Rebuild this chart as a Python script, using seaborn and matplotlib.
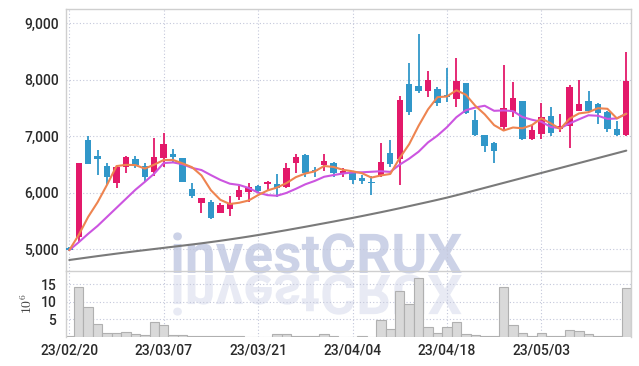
import numpy as np
import matplotlib
matplotlib.use("Agg")
import matplotlib.pyplot as plt
import seaborn as sns
from matplotlib.textpath import TextPath
from matplotlib.patches import PathPatch
from matplotlib.font_manager import FontProperties
from matplotlib.transforms import Affine2D

# trading days (yy/mm/dd)
dates = ["23/02/20", "23/02/21", "23/02/22", "23/02/23", "23/02/24", "23/02/27", "23/02/28",
         "23/03/02", "23/03/03", "23/03/06", "23/03/07", "23/03/08", "23/03/09", "23/03/10",
         "23/03/13", "23/03/14", "23/03/15", "23/03/16", "23/03/17", "23/03/20", "23/03/21",
         "23/03/22", "23/03/23", "23/03/24", "23/03/27", "23/03/28", "23/03/29", "23/03/30",
         "23/03/31", "23/04/03", "23/04/04", "23/04/05", "23/04/06", "23/04/07", "23/04/10",
         "23/04/11", "23/04/12", "23/04/13", "23/04/14", "23/04/17", "23/04/18", "23/04/19",
         "23/04/20", "23/04/21", "23/04/24", "23/04/25", "23/04/26", "23/04/27", "23/04/28",
         "23/05/02", "23/05/03", "23/05/04", "23/05/08", "23/05/09", "23/05/10", "23/05/11",
         "23/05/12", "23/05/15", "23/05/16", "23/05/17"]

opens = [5020, 5210, 6930, 6650, 6470, 6170, 6450, 6600, 6470, 6370,
         6610, 6680, 6610, 6060, 5820, 5830, 5640, 5710, 5920, 6010,
         6120, 6150, 6150, 6100, 6520, 6670, 6400, 6490, 6520, 6350,
         6360, 6260, 6190, 6290, 6700, 6600, 7920, 7890, 7800, 7840,
         7730, 7660, 7940, 7290, 7020, 6880, 7160, 7430, 7620, 6950,
         7040, 7360, 7130, 7180, 7450, 7620, 7570, 7430, 7130, 7020]
highs = [5030, 6530, 7000, 6750, 6520, 6460, 6640, 6650, 6520, 6970,
         7060, 6770, 6620, 6170, 5910, 5870, 5820, 5940, 6120, 6170,
         6130, 6200, 6330, 6520, 6680, 6680, 6450, 6680, 6540, 6440,
         6370, 6310, 6290, 6880, 6930, 7710, 8300, 8810, 8160, 7870,
         8210, 8390, 7950, 7470, 7030, 6890, 8260, 7960, 7630, 7200,
         7590, 7520, 7390, 7910, 8000, 7800, 7580, 7440, 7270, 8490]
lows = [4970, 5130, 6500, 6310, 6130, 6080, 6350, 6440, 6190, 6290,
        6450, 6520, 6180, 5900, 5640, 5530, 5630, 5590, 5870, 5830,
        5990, 6030, 5920, 6090, 6350, 6280, 6280, 6380, 6280, 6280,
        6150, 6150, 5960, 6280, 6450, 6130, 7380, 7770, 7700, 7530,
        7610, 7520, 7400, 7010, 6720, 6520, 7110, 7340, 6940, 6940,
        6950, 7000, 7070, 6790, 7440, 7430, 7220, 7070, 7010, 7010]
closes = [4980, 6520, 6510, 6590, 6280, 6450, 6630, 6490, 6280, 6630,
          6860, 6630, 6190, 5940, 5900, 5550, 5780, 5820, 6050, 6100,
          6030, 6190, 6080, 6440, 6630, 6350, 6380, 6560, 6350, 6380,
          6220, 6210, 6170, 6540, 6510, 7640, 7430, 7800, 8000, 7590,
          7700, 7980, 7410, 7020, 6830, 6740, 7500, 7680, 6950, 7110,
          7340, 7060, 7180, 7870, 7570, 7450, 7410, 7130, 7020, 7980]

# volume, 10^6 shares
volume = [0.3, 14.2, 8.4, 3.7, 1.0, 1.0, 1.4, 0.8, 0.5, 4.2,
          3.3, 0.5, 0.5, 0.3, 0.2, 0.2, 0.2, 0.2, 0.2, 0.1,
          0.1, 0.1, 0.8, 0.8, 0.3, 0.2, 0.2, 0.8, 0.3, 0.1,
          0.1, 0.3, 0.1, 4.8, 2.2, 13.0, 9.3, 16.6, 2.7, 1.2,
          2.7, 4.2, 0.8, 0.5, 0.2, 0.2, 14.1, 3.4, 1.2, 0.3,
          1.0, 0.3, 0.3, 1.9, 1.7, 0.8, 0.2, 0.2, 0.2, 13.8]

# moving averages
ma5 = [4980, 5250, 5570, 5830, 6140, 6470, 6492, 6488, 6426, 6496,
       6578, 6578, 6518, 6450, 6304, 6042, 5872, 5798, 5820, 5860,
       5956, 6038, 6090, 6168, 6274, 6338, 6376, 6472, 6454, 6404,
       6378, 6344, 6266, 6304, 6330, 6614, 6858, 7184, 7476, 7692,
       7704, 7814, 7736, 7540, 7388, 7196, 7100, 7154, 7140, 7196,
       7316, 7228, 7128, 7312, 7404, 7426, 7496, 7486, 7316, 7398]
ma10 = [4980, 5120, 5270, 5410, 5570, 5730, 5890, 6050, 6190, 6337,
        6524, 6535, 6503, 6438, 6400, 6310, 6225, 6158, 6135, 6082,
        5999, 5955, 5944, 5994, 6067, 6147, 6207, 6281, 6311, 6339,
        6358, 6360, 6369, 6379, 6367, 6496, 6601, 6725, 6890, 7011,
        7159, 7336, 7460, 7508, 7540, 7450, 7457, 7445, 7340, 7292,
        7256, 7164, 7141, 7226, 7300, 7371, 7362, 7307, 7314, 7401]
ma60 = [4805, 4828, 4851, 4874, 4896, 4918, 4939, 4960, 4980, 5000,
        5020, 5040, 5060, 5080, 5101, 5123, 5146, 5170, 5195, 5221,
        5248, 5276, 5305, 5334, 5364, 5394, 5425, 5456, 5487, 5519,
        5551, 5584, 5618, 5652, 5687, 5723, 5760, 5797, 5834, 5872,
        5911, 5953, 5996, 6040, 6084, 6128, 6172, 6216, 6260, 6304,
        6348, 6392, 6436, 6480, 6524, 6568, 6612, 6656, 6700, 6744]

RED = "#e3196a"
BLUE = "#3197c9"
GRID = "#c3c7da"
SPINE = "#cfcfcf"

sns.set_style("white")
plt.rcParams['font.family'] = ['Roboto', 'DejaVu Sans']
plt.rcParams['mathtext.fontset'] = 'cm'

fig = plt.figure(figsize=(6.39, 3.66), dpi=100)

# background axes in pixel units, for the watermark
bg = fig.add_axes([0, 0, 1, 1], zorder=0)
bg.set_xlim(0, 639)
bg.set_ylim(0, 366)
bg.axis("off")

fp = FontProperties(family="Roboto", weight="bold")
tp = TextPath((0, 0), "investCRUX", size=55, prop=fp)
ext = tp.get_extents()
x0 = 317.5 - ext.width / 2 - ext.x0
base = 93
bg.add_patch(PathPatch(tp, transform=Affine2D().translate(x0, base) + bg.transData,
                       facecolor="#ccd2e7", lw=0))
bg.add_patch(PathPatch(tp, transform=Affine2D().scale(1, -1).translate(x0, base - 2) + bg.transData,
                       facecolor="#ccd2e7", alpha=0.45, lw=0))

ax = fig.add_axes([66 / 639, 95 / 366, 565 / 639, 262 / 366], zorder=1)
axv = fig.add_axes([66 / 639, 29 / 366, 565 / 639, 66 / 366], zorder=1)
for a in (ax, axv):
    a.set_facecolor("none")

idx = np.arange(len(closes))
o = np.array(opens)
c = np.array(closes)
colors = np.where(c >= o, RED, BLUE)

# candles
ax.vlines(idx, lows, highs, colors=colors, linewidth=1.3, zorder=2)
ax.bar(idx, np.abs(c - o), bottom=np.minimum(o, c), width=0.68, color=colors,
       linewidth=0, zorder=3)

# moving averages
sns.lineplot(x=idx, y=ma60, ax=ax, color="#7a7a7a", linewidth=1.5, zorder=4)
sns.lineplot(x=idx, y=ma10, ax=ax, color="#cc55e0", linewidth=1.5, zorder=4)
sns.lineplot(x=idx, y=ma5, ax=ax, color="#ee8450", linewidth=1.5, zorder=5)

# volume
sns.barplot(x=idx, y=volume, ax=axv, color="#d9d9d9", edgecolor="#b0b0b0",
            linewidth=0.8, width=1.0, saturation=1, zorder=2)

xt = [0, 10, 20, 30, 40, 50]
for a in (ax, axv):
    a.set_xlim(-0.35, 59.5)
    a.set_xticks(xt)
    a.grid(True, linestyle=(0, (1, 2)), color=GRID, linewidth=0.8)
    a.set_axisbelow(True)
    for s in a.spines.values():
        s.set_color(SPINE)
        s.set_linewidth(1.0)
    a.tick_params(length=0, labelsize=10, labelcolor="#2a2a2a")
    a.set_xlabel("")
    a.set_ylabel("")

ax.set_ylim(4610, 9255)
ax.set_yticks([5000, 6000, 7000, 8000, 9000])
ax.set_yticklabels([f"{v:,}" for v in [5000, 6000, 7000, 8000, 9000]], fontweight="medium")
ax.set_xticklabels([])
ax.tick_params(axis="y", pad=5)
ax.spines["bottom"].set_visible(False)

axv.set_ylim(0, 18.7)
axv.set_yticks([5, 10, 15])
axv.set_yticklabels(["5", "10", "15"], fontweight="medium")
axv.set_xticklabels([dates[i] for i in xt], fontweight="medium")
axv.tick_params(axis="y", pad=7)
axv.tick_params(axis="x", pad=5)
axv.spines["bottom"].set_visible(False)
axv.set_ylabel(r"$10^6$", fontsize=10, color="#444444", labelpad=4)

fig.savefig("out.png", dpi=100)
